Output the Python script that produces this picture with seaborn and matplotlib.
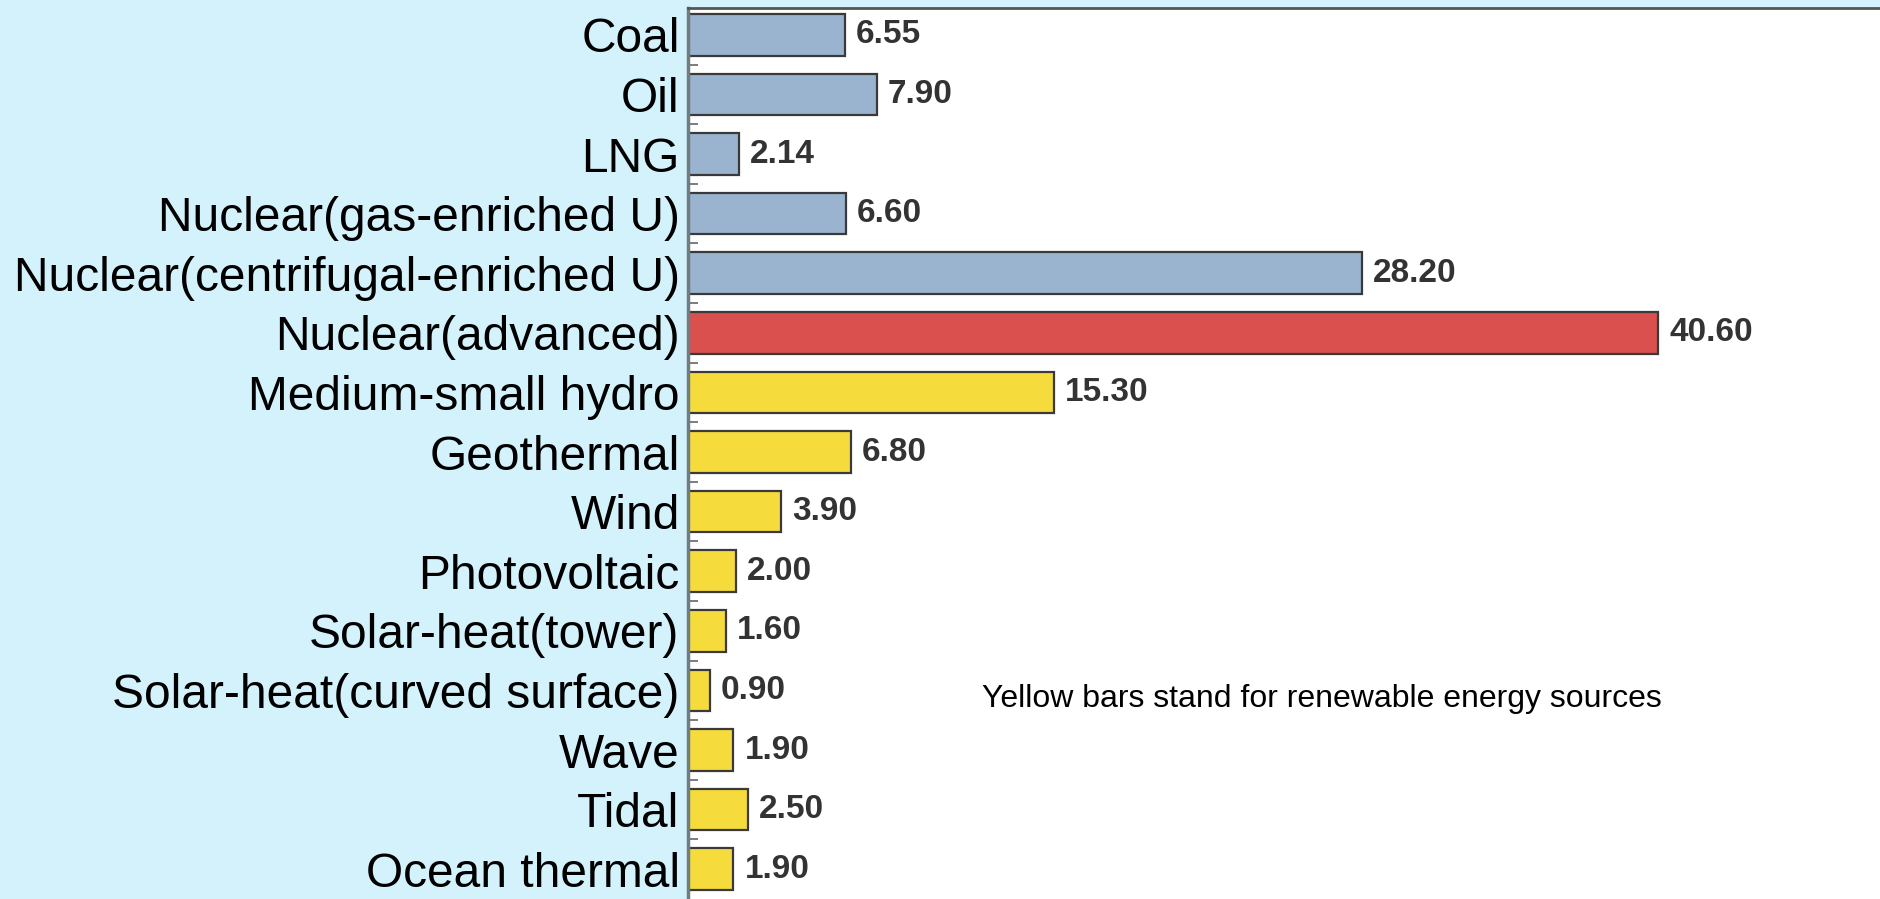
import matplotlib
matplotlib.use("Agg")
import matplotlib.pyplot as plt
import seaborn as sns
import pandas as pd
from matplotlib.ticker import FixedLocator

# Energy sources and their values
sources = [
    "Coal", "Oil", "LNG", "Nuclear(gas-enriched U)",
    "Nuclear(centrifugal-enriched U)", "Nuclear(advanced)",
    "Medium-small hydro", "Geothermal", "Wind", "Photovoltaic",
    "Solar-heat(tower)", "Solar-heat(curved surface)", "Wave", "Tidal",
    "Ocean thermal",
]
values = [6.55, 7.90, 2.14, 6.60, 28.20, 40.60, 15.30, 6.80, 3.90, 2.00,
          1.60, 0.90, 1.90, 2.50, 1.90]
groups = ["fossil", "fossil", "fossil", "nuclear", "nuclear", "advanced",
          "renewable", "renewable", "renewable", "renewable", "renewable",
          "renewable", "renewable", "renewable", "renewable"]
note = "Yellow bars stand for renewable energy sources"

group_colors = {"fossil": "#9AB4D0", "nuclear": "#9AB4D0",
                "advanced": "#D9504E", "renewable": "#F5DC3C"}

df = pd.DataFrame({"source": sources, "value": values, "group": groups})
palette = {s: group_colors[g] for s, g in zip(sources, groups)}

W, H = 1881, 899
fig = plt.figure(figsize=(W / 100, H / 100), dpi=100, facecolor="#D4F2FB")
ax_left = 688 / W
ax = fig.add_axes([ax_left, 0.0, 1195 / W, (H - 8) / H])
ax.set_facecolor("white")

sns.barplot(data=df, y="source", x="value", hue="source", palette=palette,
            order=sources, hue_order=sources, orient="h", width=0.7,
            saturation=1, edgecolor="#3A3A3A", linewidth=1.6, legend=False,
            ax=ax)

for cont in ax.containers:
    ax.bar_label(cont, fmt="%.2f", padding=8, fontsize=24,
                 fontweight="bold", color="#333333",
                 family="Liberation Sans")

ax.set_xlim(0, 50)
ax.set_ylim(len(sources) - 0.5, -0.45)
ax.set_xlabel("")
ax.set_ylabel("")
ax.set_xticks([])

ax.tick_params(axis="y", which="major", length=0, pad=6,
               labelsize=34.5, labelcolor="black")
for lbl in ax.get_yticklabels():
    lbl.set_family("Liberation Sans")

ax.yaxis.set_minor_locator(FixedLocator([i + 0.5 for i in range(len(sources) - 1)]))
ax.tick_params(axis="y", which="minor", direction="in", length=7,
               width=1.2, color="#666666")

for side in ["right", "bottom"]:
    ax.spines[side].set_visible(False)
ax.spines["left"].set_color("#6F7C80")
ax.spines["left"].set_linewidth(2.5)
ax.spines["top"].set_color("#555555")
ax.spines["top"].set_linewidth(2)

ax.text(0.246, 0.224, note, transform=ax.transAxes, fontsize=23,
        family="Liberation Sans", color="black", va="center", ha="left")

fig.savefig("out.png", dpi=100, facecolor=fig.get_facecolor())
